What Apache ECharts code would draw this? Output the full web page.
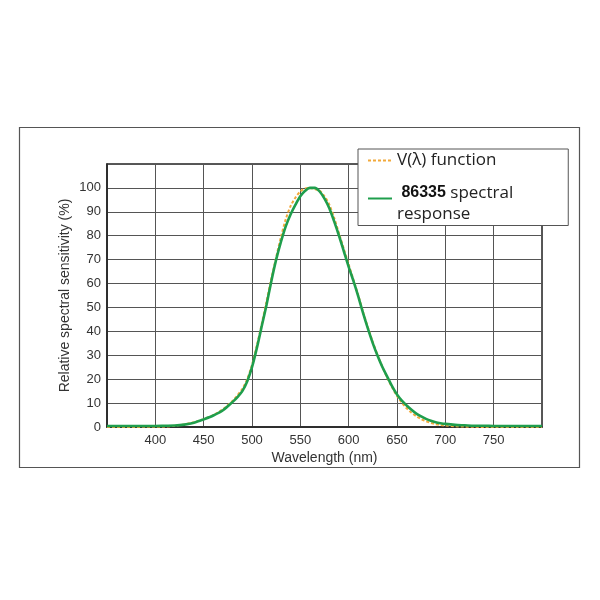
<!DOCTYPE html>
<html>
<head>
<meta charset="utf-8">
<script src="https://cdn.jsdelivr.net/npm/echarts@6/dist/echarts.min.js"></script>
<style>
    html, body { margin: 0; padding: 0; background: #fff; }
    #main { width: 600px; height: 600px; }
</style>
</head>
<body>
<div id="main"></div>
<script type="text/javascript">
    var wavelengths = [350, 360, 370, 380, 390, 400, 410, 420, 430, 440, 450, 460, 470, 480, 485, 490, 495,
        500, 505, 510, 515, 520, 525, 530, 535, 540, 545, 550, 555, 560, 565, 570, 575, 580, 585, 590, 595,
        600, 605, 610, 615, 620, 625, 630, 635, 640, 645, 650, 655, 660, 665, 670, 675, 680, 685, 690, 695,
        700, 710, 720, 730, 740, 750, 775, 800];
    var vLambda = [0, 0, 0, 0, 0.1, 0.1, 0.2, 0.5, 1.1, 2, 3.3, 5, 7.5, 11, 13.3, 16, 20,
        26, 34, 43, 52.5, 62, 71, 79.5, 87, 92.5, 96, 98.5, 99.8, 100, 99.5, 98.8, 96.5, 93, 87.5, 81, 74.5,
        68, 61.5, 55, 48, 41.5, 35.5, 30, 25, 20.5, 16.5, 13, 10.2, 7.8, 6, 4.5, 3.3, 2.4, 1.7, 1.2, 0.8,
        0.6, 0.3, 0.15, 0.1, 0, 0, 0, 0];
    var response86335 = [0.4, 0.4, 0.4, 0.4, 0.4, 0.4, 0.5, 0.6, 1, 1.8, 3.2, 4.8, 7, 10.5, 12.5, 15, 19,
        25, 33, 42, 51, 61, 70, 77.5, 84, 89, 93, 96.5, 98.8, 100, 100, 98.5, 95.5, 91.5, 86, 80, 73.5,
        67, 61, 54.5, 47.5, 41, 35, 29.7, 25, 21, 17, 13.6, 11, 9, 7.2, 5.6, 4.4, 3.4, 2.6, 2, 1.6,
        1.3, 0.9, 0.7, 0.5, 0.5, 0.4, 0.4, 0.4];
    var seriesNames = ['V(λ) function', '86335 spectral response'];

    function pairs(values) {
        var out = [];
        for (var i = 0; i < wavelengths.length; i++) {
            out.push([wavelengths[i], values[i]]);
        }
        return out;
    }

    var myChart = echarts.init(document.getElementById('main'));
    var axisFont = 'Liberation Sans, Arial, sans-serif';
    var legendFont = 'Open Sans, Noto Sans, sans-serif';
    var option = {
        backgroundColor: '#fff',
        animation: false,
        graphic: [{
            type: 'rect',
            shape: { x: 19.5, y: 127.5, width: 560, height: 340 },
            style: { fill: 'none', stroke: '#555', lineWidth: 1.2 },
            z: -1
        }],
        grid: {
            left: 107, top: 164, right: 58, bottom: 173,
            show: true, borderColor: '#222', borderWidth: 1.5
        },
        legend: {
            orient: 'vertical',
            left: 358, top: 149,
            padding: [1, 55, 1, 9],
            itemGap: 1.5,
            itemWidth: 24,
            itemHeight: 14,
            itemStyle: { opacity: 0 },
            backgroundColor: '#fff',
            borderColor: '#555',
            borderWidth: 1,
            textStyle: {
                fontFamily: legendFont,
                fontSize: 17, lineHeight: 21, color: '#222',
                rich: {
                    b: { fontFamily: axisFont, fontSize: 16, lineHeight: 21, fontWeight: 'bold', color: '#111' }
                }
            },
            data: [seriesNames[0], {
                name: seriesNames[1],
                textStyle: { padding: [10, 0, 0, 0] }
            }],
            formatter: function (name) {
                if (name === seriesNames[1]) {
                    return ' {b|86335} spectral\nresponse';
                }
                return name;
            }
        },
        xAxis: {
            type: 'value',
            min: 350, max: 800, interval: 50,
            name: 'Wavelength (nm)',
            nameLocation: 'middle',
            nameGap: 24,
            nameMoveOverlap: false,
            nameTextStyle: { fontFamily: axisFont, fontSize: 14, color: '#333' },
            axisLine: { lineStyle: { color: '#222', width: 1.5 } },
            axisTick: { show: false },
            axisLabel: { showMinLabel: false, showMaxLabel: false, margin: 7, fontFamily: axisFont, fontSize: 13, color: '#333' },
            splitLine: { lineStyle: { color: '#555', width: 1 } }
        },
        yAxis: {
            type: 'value',
            min: 0, max: 110, interval: 10,
            name: 'Relative spectral sensitivity (%)',
            nameLocation: 'middle',
            nameGap: 35,
            nameMoveOverlap: false,
            nameTextStyle: { fontFamily: axisFont, fontSize: 14, color: '#333' },
            axisLine: { show: true, lineStyle: { color: '#222', width: 1.5 } },
            axisTick: { show: false },
            axisLabel: { showMaxLabel: false, margin: 6, fontFamily: axisFont, fontSize: 13, color: '#333' },
            splitLine: { lineStyle: { color: '#555', width: 1 } }
        },
        series: [{
            name: seriesNames[0],
            type: 'line',
            symbol: 'none',
            smooth: 0.3,
            data: pairs(vLambda),
            lineStyle: { color: '#f2a93b', width: 2, type: [3, 2] },
            itemStyle: { color: '#f2a93b' },
            z: 2
        }, {
            name: seriesNames[1],
            type: 'line',
            symbol: 'none',
            smooth: 0.3,
            data: pairs(response86335),
            lineStyle: { color: '#1f9e4c', width: 2.6 },
            itemStyle: { color: '#1f9e4c' },
            z: 3
        }]
    };
    myChart.setOption(option);
</script>
</body>
</html>
